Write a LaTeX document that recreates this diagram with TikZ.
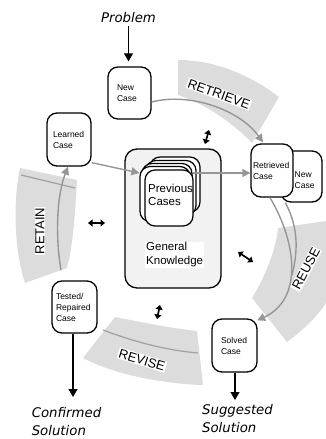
\documentclass[tikz,border=0pt]{standalone}
\usepackage{fontspec}
\setmainfont{Liberation Sans}
\newfontfamily\djv{DejaVu Sans}
\usetikzlibrary{arrows.meta}
\definecolor{bandgray}{RGB}{220,220,220}
\definecolor{bandline}{RGB}{160,160,160}
\definecolor{arrgray}{RGB}{150,150,150}
\definecolor{boxfill}{RGB}{242,242,242}
\begin{document}
\begin{tikzpicture}[x=1pt,y=-1pt,
  band/.style={fill=bandgray, draw=none},
  bandedge/.style={draw=bandline, line width=1.2pt},
  garrow/.style={draw=arrgray, line width=1.4pt, -{Triangle[length=8pt,width=8pt]}},
  gline/.style={draw=arrgray, line width=1.4pt},
  barrow/.style={draw=black, line width=1.2pt, -{Triangle[length=8pt,width=9pt]}},
  dbl/.style={draw=black, line width=1.7pt, {Triangle[length=4.5pt,width=7pt]}-{Triangle[length=4.5pt,width=7pt]}},
  casebox/.style={draw=black, line width=1.3pt, rounded corners=10pt, fill=white, align=left,
    font=\fontsize{8.5}{11}\selectfont, inner ysep=0pt},
  stackbox/.style={draw=black, line width=1.2pt, rounded corners=10pt, fill=white,
    minimum width=50pt, minimum height=55pt, inner sep=0pt},
  bandlabel/.style={fill=white, inner sep=1pt, font=\fontsize{13}{13}\selectfont},
  ext/.style={font=\djv\itshape\fontsize{13.3}{18}\selectfont, align=left, inner sep=0pt}
]
\useasboundingbox (0,0) rectangle (326,439);

% ---- bands ----
% RETRIEVE
\path[band] (178,60) .. controls (215,60) and (250,75) .. (279,97)
  -- (252,143) .. controls (232,122) and (205,104) .. (178,95) -- cycle;
% REUSE
\path[band] (278,228) -- (340,219) -- (340,288) -- (326,303)
  .. controls (316,318) and (303,330) .. (287,342)
  -- (252,298) .. controls (262,282) and (276,252) .. (278,228) -- cycle;
% REVISE
\path[band] (115,317) .. controls (140,322) and (170,328) .. (197,331)
  -- (203,385) .. controls (165,384) and (115,375) .. (83,358) -- cycle;
\draw[bandedge] (103,330) .. controls (135,342) and (165,350) .. (198,353);
% RETAIN
\path[band] (20,168) -- (77,180) .. controls (75,215) and (73,245) .. (67,268)
  -- (25,283) .. controls (14,250) and (13,200) .. (20,168) -- cycle;
\draw[bandedge] (21,175) -- (75,188);

% ---- band labels ----
\node[bandlabel, rotate=-20] (lretrieve) at (219,94) {RETRIEVE};
\node[bandlabel, rotate=62] (lreuse) at (306,269) {REUSE};
\node[bandlabel, rotate=-17] (lrevise) at (142,360) {REVISE};
\node[bandlabel, rotate=90] (lretain) at (40,231) {RETAIN};

% ---- central box ----
\node[draw=black, line width=1.3pt, rounded corners=12pt, fill=boxfill,
  minimum width=96pt, minimum height=139pt] (general) at (173,218.5) {};
\node[stackbox] (p1) at (175,184.5) {};
\node[stackbox] (p2) at (171,188) {};
\node[stackbox] (p3) at (167,191) {};
\node[stackbox] (p4) at (165,194) {};
\node[stackbox, minimum width=48pt, minimum height=56pt] (p5) at (169,198) {};
\node[align=left, anchor=west, inner sep=0pt, font=\fontsize{11.5}{12.5}\selectfont] (prev) at (148,195) {Previous\\Cases};
\node[fill=white, inner sep=1pt, align=left, anchor=west, font=\fontsize{11.5}{14}\selectfont] (gk) at (145,255) {General\\Knowledge};

% ---- case boxes ----
\node[casebox, text width=25pt, inner xsep=9pt, minimum height=52pt] (newcase) at (129.5,93) {New\\Case};
\node[casebox, text width=32pt, inner xsep=6pt, minimum height=53pt] (learned) at (69,139.5) {Learned\\Case};
\node[casebox, text width=27pt, inner xsep=7pt, minimum height=51pt] (newcase2) at (301.5,176.5) {};
\node[align=left, anchor=west, inner sep=0pt, font=\fontsize{8.5}{11}\selectfont] (nc2text) at (294.5,180) {New\\Case};
\node[casebox, text width=38pt, inner xsep=2pt, minimum height=53pt] (retrieved) at (272,170.5) {Retrieved\\Case};
\node[casebox, text width=37pt, inner xsep=4pt, minimum height=52pt] (tested) at (74.5,307) {Tested/\\Repaired\\Case};
\node[casebox, text width=27pt, inner xsep=9pt, minimum height=53pt] (solved) at (234.5,345.5) {Solved\\Case};

% ---- gray arrows ----
\coordinate (pc) at (193,173);
\coordinate (retstart) at (61,270);
\draw[garrow] ([yshift=4pt]learned.south east) -- ([yshift=21pt]p4.west);
\draw[garrow] (pc) -- (pc -| retrieved.west);
\draw[garrow] ([yshift=-9pt]newcase.east) .. controls (190,92) and (240,110) .. ([xshift=-9pt,yshift=1pt]retrieved.north);
\draw[gline] ([xshift=5pt]newcase2.south west) .. controls (300,230) and (297,255) .. (292,275);
\draw[garrow] ([xshift=-2pt]retrieved.south) .. controls (298,245) and (302,300) .. ([xshift=-0.5pt,yshift=-2pt]solved.north east);
\draw[garrow] (retstart) .. controls (55,235) and (57,195) .. ([xshift=-1pt]learned.south);

% ---- outside texts and black arrows ----
\node[ext] (problem) at (128.5,17.5) {Problem};
\node[ext] (confirmed) at (66.5,422) {Confirmed\\Solution};
\node[ext] (suggested) at (237.5,419) {Suggested\\Solution};
\coordinate (ctip) at (73,397);
\coordinate (stip) at (235,400);
\draw[barrow] ([yshift=-3pt]problem.south) -- (problem.south |- newcase.north) [shorten >=5pt];
\draw[barrow] (tested.south -| ctip) -- (ctip);
\draw[barrow] (solved.south -| stip) -- (stip);

% ---- double arrows ----
\draw[dbl] (205,144) -- (209,130);
\draw[dbl] (88,223) -- (105,223);
\draw[dbl] (238,252) -- (253,262);
\draw[dbl] (157,319) -- (160,305);
\end{tikzpicture}
\end{document}
